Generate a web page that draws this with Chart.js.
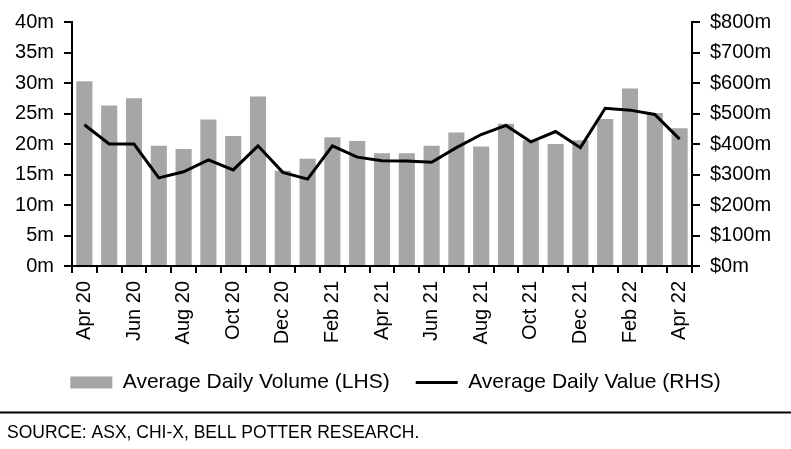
<!DOCTYPE html>
<html>
<head>
<meta charset="utf-8">
<script src="https://cdn.jsdelivr.net/npm/chart.js@4/dist/chart.umd.min.js"></script>
<style>
  html, body { margin: 0; padding: 0; background: #fff; }
  #wrap { width: 791px; height: 449px; position: relative; }
</style>
</head>
<body>
<div id="wrap"><canvas id="myChart"></canvas></div>
<script>
const months = ['Apr 20','May 20','Jun 20','Jul 20','Aug 20','Sep 20','Oct 20','Nov 20','Dec 20','Jan 21',
  'Feb 21','Mar 21','Apr 21','May 21','Jun 21','Jul 21','Aug 21','Sep 21','Oct 21','Nov 21',
  'Dec 21','Jan 22','Feb 22','Mar 22','Apr 22'];
// average daily volume, m (LHS)
const volume = [30.3, 26.3, 27.5, 19.7, 19.2, 24.0, 21.3, 27.8, 15.6, 17.6,
  21.1, 20.5, 18.5, 18.5, 19.7, 21.9, 19.6, 23.3, 20.6, 20.0,
  20.6, 24.1, 29.1, 25.1, 22.6];
// average daily value, $m (RHS)
const value = [463, 400, 400, 289, 309, 348, 315, 394, 307, 285,
  394, 357, 345, 344, 340, 388, 431, 461, 407, 441,
  388, 517, 511, 497, 416];
const volTicks = [0, 5, 10, 15, 20, 25, 30, 35, 40];
const valTicks = [0, 100, 200, 300, 400, 500, 600, 700, 800];
const sourceText = 'SOURCE: ASX, CHI-X, BELL POTTER RESEARCH.';

const font = "Arial, 'Liberation Sans', sans-serif";

const footer = {
  id: 'footer',
  afterDraw(chart) {
    const ctx = chart.ctx;
    ctx.save();
    ctx.strokeStyle = '#000';
    ctx.lineWidth = 2;
    ctx.beginPath();
    ctx.moveTo(0, 412.5);
    ctx.lineTo(chart.width, 412.5);
    ctx.stroke();
    ctx.fillStyle = '#000';
    ctx.font = '17.5px ' + font;
    ctx.textBaseline = 'middle';
    ctx.fillText(sourceText, 7, 433);
    ctx.restore();
  }
};

const ctx = document.getElementById('myChart').getContext('2d');
const myChart = new Chart(ctx, {
  type: 'bar',
  data: {
    labels: months,
    datasets: [{
      type: 'line',
      label: 'Average Daily Value (RHS)',
      data: value,
      yAxisID: 'y1',
      borderColor: '#000',
      backgroundColor: '#000',
      borderWidth: 3,
      pointRadius: 0,
      tension: 0
    }, {
      label: 'Average Daily Volume (LHS)',
      data: volume,
      yAxisID: 'y',
      backgroundColor: '#a6a6a6',
      borderWidth: 0,
      categoryPercentage: 1,
      barPercentage: 0.65
    }]
  },
  options: {
    responsive: true,
    maintainAspectRatio: false,
    animation: false,
    layout: { padding: { top: 19, bottom: 46, left: 0, right: 0 } },
    plugins: {
      tooltip: { enabled: false },
      legend: {
        position: 'bottom',
        labels: {
          color: '#000',
          font: { family: font, size: 21 },
          usePointStyle: true,
          pointStyleWidth: 42,
          boxHeight: 12,
          padding: 26,
          generateLabels(chart) {
            const items = Chart.defaults.plugins.legend.labels.generateLabels(chart);
            items.forEach(it => { it.pointStyle = it.datasetIndex === 0 ? 'line' : 'rect'; });
            return items.sort((a, b) => b.datasetIndex - a.datasetIndex);
          }
        }
      }
    },
    scales: {
      x: {
        offset: true,
        afterFit(scale) { scale.height = 80; },
        grid: { offset: true, drawOnChartArea: false, drawTicks: true, tickLength: 7, color: '#000', lineWidth: 2 },
        border: { display: true, color: '#000', width: 2 },
        ticks: {
          autoSkip: false,
          maxRotation: 90,
          minRotation: 90,
          padding: 8,
          color: '#000',
          font: { family: font, size: 20 },
          callback(v, i) { return i % 2 === 0 ? months[i] : ''; }
        }
      },
      y: {
        position: 'left',
        min: 0,
        max: 40,
        afterFit(scale) { scale.width = 72; },
        afterBuildTicks(scale) { scale.ticks = volTicks.map(v => ({ value: v })); },
        grid: { drawOnChartArea: false, drawTicks: true, tickLength: 8, color: '#000', lineWidth: 2 },
        border: { display: true, color: '#000', width: 2 },
        ticks: {
          padding: 10,
          color: '#000',
          font: { family: font, size: 20 },
          callback(v) { return v + 'm'; }
        }
      },
      y1: {
        position: 'right',
        min: 0,
        max: 800,
        afterFit(scale) { scale.width = 99; },
        afterBuildTicks(scale) { scale.ticks = valTicks.map(v => ({ value: v })); },
        grid: { drawOnChartArea: false, drawTicks: true, tickLength: 8, color: '#000', lineWidth: 2 },
        border: { display: true, color: '#000', width: 2 },
        ticks: {
          padding: 10,
          color: '#000',
          font: { family: font, size: 20 },
          callback(v) { return '$' + v + 'm'; }
        }
      }
    }
  },
  plugins: [footer]
});
</script>
</body>
</html>
